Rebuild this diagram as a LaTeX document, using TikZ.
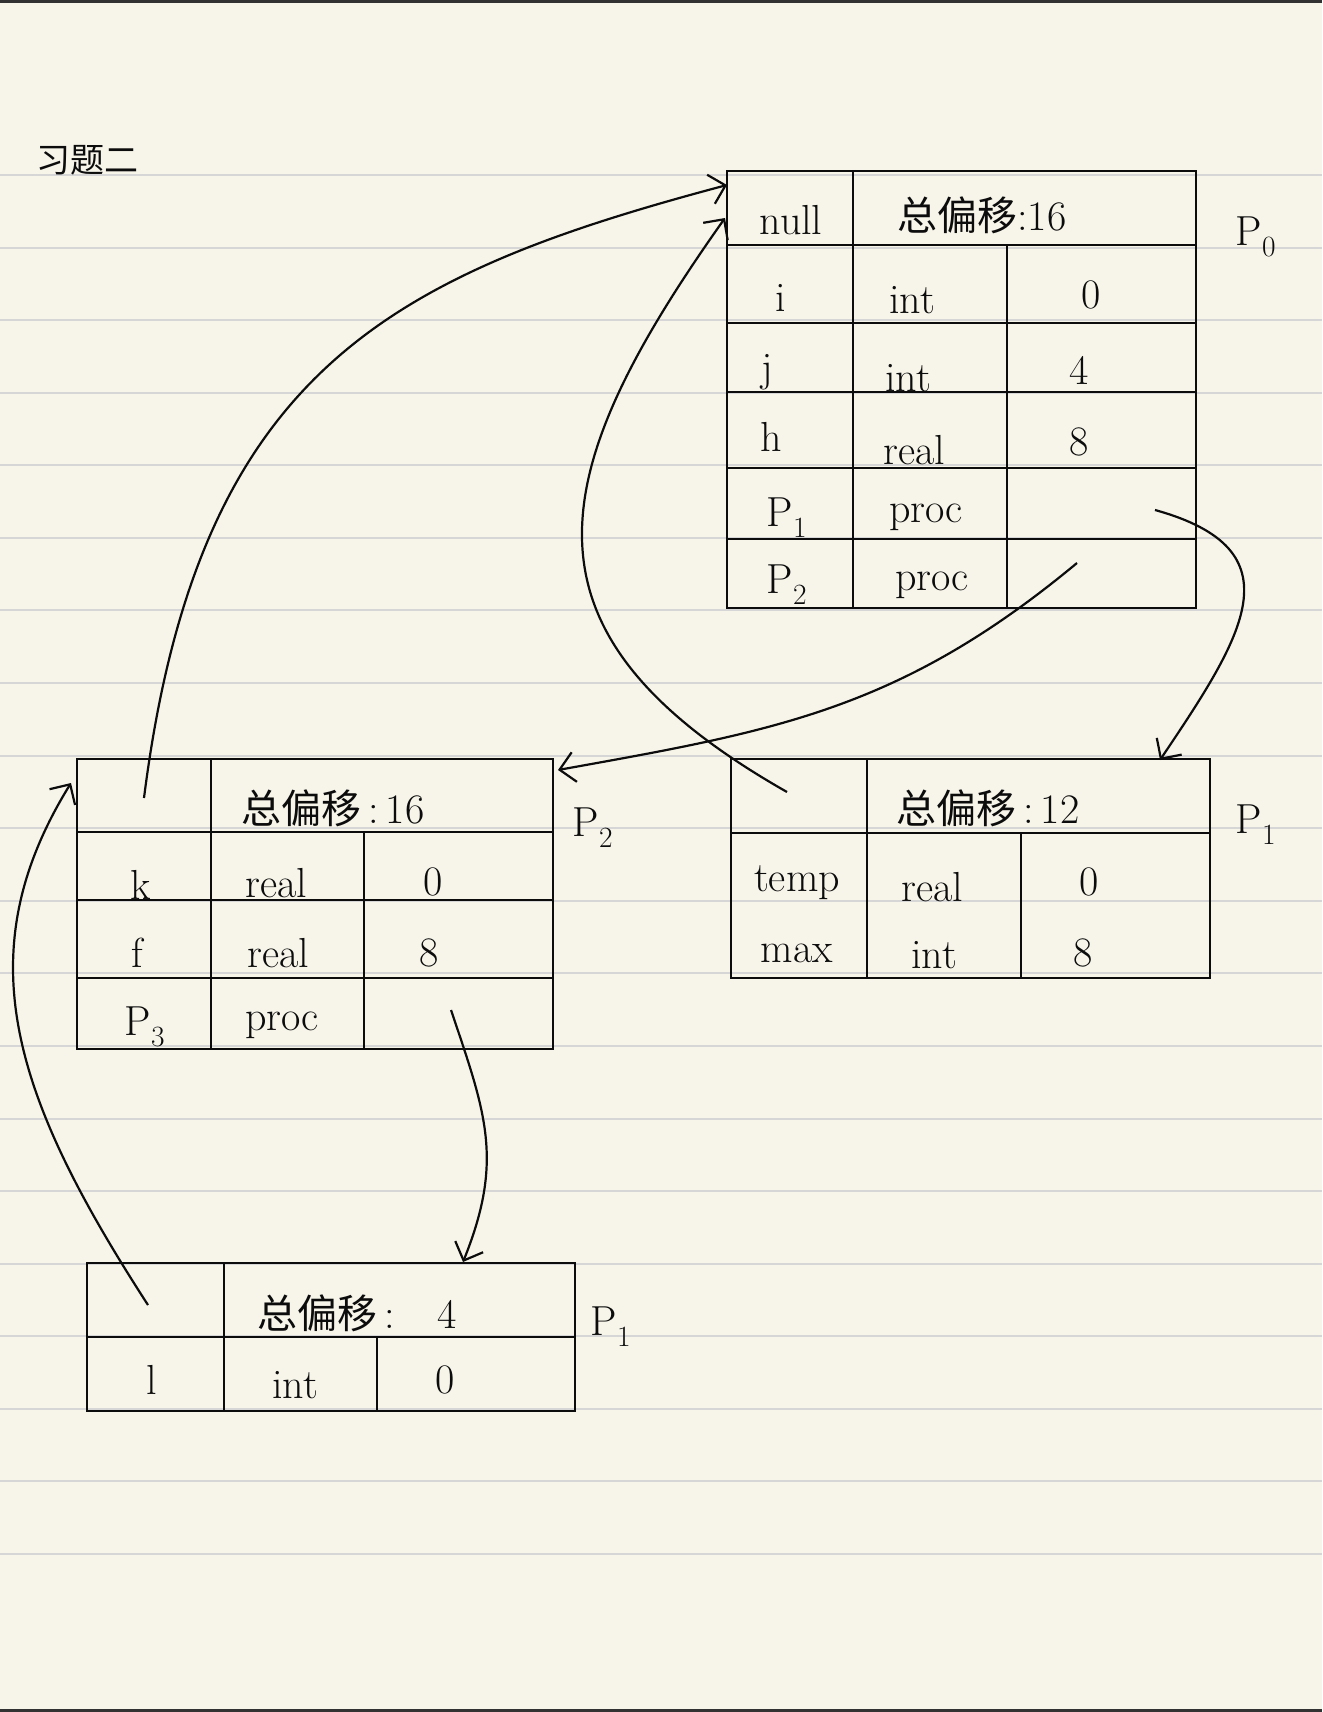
\documentclass[tikz,border=0pt]{standalone}
\usepackage{fontspec}
\newfontfamily\cjk{Noto Sans CJK SC}
\usetikzlibrary{arrows.meta}
\definecolor{paper}{RGB}{247,245,234}
\definecolor{ruling}{RGB}{214,214,214}
\definecolor{ink}{RGB}{12,12,12}
\definecolor{framec}{RGB}{50,50,50}
\tikzset{
  tbl/.style={draw=ink, line width=2.6pt},
  conn/.style={draw=ink, line width=2.2pt, -{Straight Barb[length=15pt,width=30pt]}},
  txt/.style={inner sep=0pt, font=\fontsize{42}{50}\selectfont, text=ink},
  zh/.style={inner sep=0pt, font=\fontsize{40}{48}\selectfont\cjk, text=ink},
  ttl/.style={inner sep=0pt, font=\fontsize{34}{40}\selectfont\cjk, text=ink},
}
\begin{document}
\begin{tikzpicture}[x=1pt,y=-1pt]
\fill[paper] (0,0) rectangle (1322,1712);
\useasboundingbox (0,0) rectangle (1322,1712);
\foreach \k in {0,...,19} \draw[ruling, line width=2pt] (0,{175+72.58*\k}) -- (1322,{175+72.58*\k});
\fill[framec] (0,0) rectangle (1322,3);
\fill[framec] (0,1709) rectangle (1322,1712);

% title
\node[ttl] (title) at (87,160) {习题二};

% ---------- P0 table ----------
\draw[tbl] (727,171) rectangle (1196,608);
\draw[tbl] (853,171) -- (853,608);
\draw[tbl] (1007,245) -- (1007,608);
\foreach \y in {245,323,392,468,539} \draw[tbl] (727,\y) -- (1196,\y);
\node[txt] (p0null) at (791,220) {null};
\node[zh]  (p0hd) at (982,215) {总偏移{\rmfamily\fontsize{42}{50}\selectfont :16}};
\node[txt] (p0i) at (781,298) {i};
\node[txt] (p0it) at (912,300) {int};
\node[txt] (p0io) at (1091,295) {0};
\node[txt] (p0j) at (767,372) {j};
\node[txt] (p0jt) at (908,378) {int};
\node[txt] (p0jo) at (1079,370) {4};
\node[txt] (p0h) at (771,437) {h};
\node[txt] (p0ht) at (914,450) {real};
\node[txt] (p0ho) at (1079,442) {8};
\node[txt] (p0p1) at (787,518) {P\textsubscript{1}};
\node[txt] (p0p1t) at (926,517) {proc};
\node[txt] (p0p2) at (787,585) {P\textsubscript{2}};
\node[txt] (p0p2t) at (932,585) {proc};
\node[txt] (labP0) at (1256,237) {P\textsubscript{0}};

% ---------- P2 table ----------
\draw[tbl] (77,759) rectangle (553,1049);
\draw[tbl] (211,759) -- (211,1049);
\draw[tbl] (364,832) -- (364,1049);
\foreach \y in {832,900,978} \draw[tbl] (77,\y) -- (553,\y);
\node[zh]  (p2hd) at (333,808) {总偏移{\rmfamily\fontsize{42}{50}\selectfont\,:\,16}};
\node[txt] (p2k) at (141,885) {k};
\node[txt] (p2kt) at (276,883) {real};
\node[txt] (p2ko) at (433,882) {0};
\node[txt] (p2f) at (137,953) {f};
\node[txt] (p2ft) at (278,953) {real};
\node[txt] (p2fo) at (429,953) {8};
\node[txt] (p2p3) at (145,1027) {P\textsubscript{3}};
\node[txt] (p2p3t) at (282,1025) {proc};
\node[txt] (labP2) at (593,828) {P\textsubscript{2}};

% ---------- P1 table (right) ----------
\draw[tbl] (731,759) rectangle (1210,978);
\draw[tbl] (867,759) -- (867,978);
\draw[tbl] (1021,833) -- (1021,978);
\draw[tbl] (731,833) -- (1210,833);
\node[zh]  (p1hd) at (988,808) {总偏移{\rmfamily\fontsize{42}{50}\selectfont\,:\,12}};
\node[txt] (p1t) at (797,883) {temp};
\node[txt] (p1tt) at (932,887) {real};
\node[txt] (p1to) at (1089,882) {0};
\node[txt] (p1m) at (797,953) {max};
\node[txt] (p1mt) at (934,955) {int};
\node[txt] (p1mo) at (1083,953) {8};
\node[txt] (labP1) at (1256,825) {P\textsubscript{1}};

% ---------- P3 table (bottom) ----------
\draw[tbl] (87,1263) rectangle (575,1411);
\draw[tbl] (224,1263) -- (224,1411);
\draw[tbl] (377,1337) -- (377,1411);
\draw[tbl] (87,1337) -- (575,1337);
\node[zh]  (p3hd) at (357,1313) {总偏移{\rmfamily\fontsize{42}{50}\selectfont\,:\quad 4}};
\node[txt] (p3l) at (152,1380) {l};
\node[txt] (p3lt) at (295,1385) {int};
\node[txt] (p3lo) at (445,1380) {0};
\node[txt] (labP3) at (611,1327) {P\textsubscript{1}};

% ---------- connector end points ----------
\coordinate (aS) at (144,798);
\coordinate (aE) at (727,185);
\coordinate (bS) at (787,792);
\coordinate (bE) at (725,218);
\coordinate (cS) at (1077,563);
\coordinate (cE) at (558,770);
\coordinate (dS) at (1155,510);
\coordinate (dE) at (1160,760);
\coordinate (eS) at (451,1010);
\coordinate (eE) at (463,1262);
\coordinate (fS) at (148,1305);
\coordinate (fE) at (71,783);

\draw[conn] (aS) .. controls (198,371) and (389,275) .. (aE);
\draw[conn] (bS) .. controls (509,634) and (540,479) .. (bE);
\draw[conn] (cS) .. controls (900,710) and (775,731) .. (cE);
\draw[conn] (dS) .. controls (1299,550) and (1244,635) .. (dE);
\draw[conn] (eS) .. controls (486,1114) and (504,1160) .. (eE);
\draw[conn] (fS) .. controls (12,1095) and (-34,953) .. (fE);
\end{tikzpicture}
\end{document}
